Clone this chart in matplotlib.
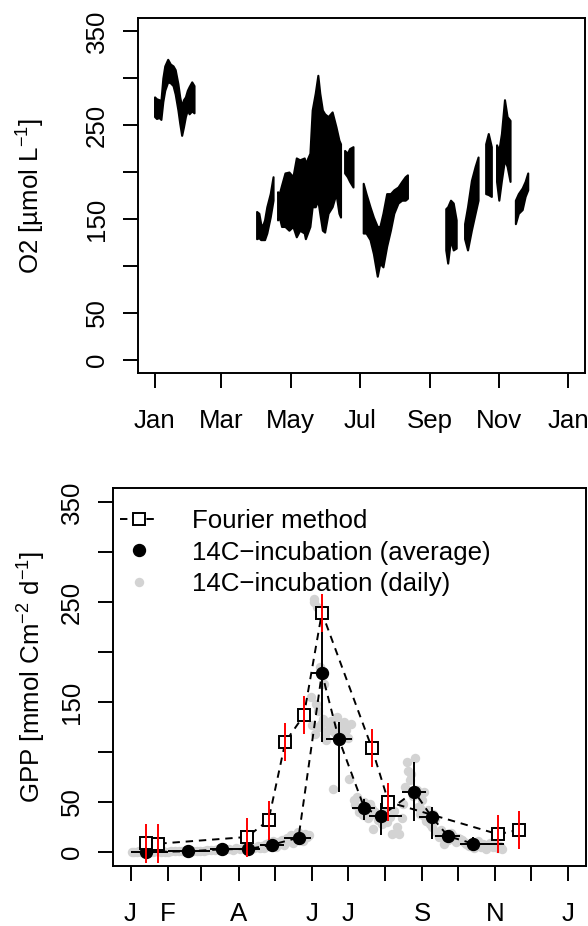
import matplotlib
matplotlib.use("Agg")
import matplotlib.pyplot as plt
import numpy as np

plt.rcParams['font.family'] = ['Liberation Sans', 'DejaVu Sans']
plt.rcParams['mathtext.fontset'] = 'custom'
plt.rcParams['mathtext.rm'] = 'Liberation Sans'
plt.rcParams['mathtext.it'] = 'Liberation Sans:italic'
plt.rcParams['mathtext.bf'] = 'Liberation Sans:bold'

FS = 18.6

# ---------------- O2 record: envelope (upper / lower) per deployment, day of year
o2_day_1 = [0, 1.7, 4, 5.6, 7.3, 9, 11.6, 13.9, 16.3, 18.2, 20.6, 22.2, 23.9, 25.5, 27.2, 28.9, 30.5, 32.8, 34.8]
o2_hi_1 = [280, 278, 277, 276, 300, 313, 320, 315, 313, 309, 294, 280, 270, 277, 280, 287, 291, 296, 292]
o2_lo_1 = [259, 257, 258, 256, 275, 287, 296, 295, 292, 283, 266, 252, 239, 248, 259, 266, 262, 265, 263]

o2_day_2 = [90, 92, 93.6, 95, 97, 99, 102, 104.5]
o2_hi_2 = [158, 156, 145, 142, 149, 163, 177, 195]
o2_lo_2 = [129, 130, 128, 128, 128, 135, 152, 170]

o2_day_3 = [108.5, 110, 112, 115, 118.5, 122, 125, 128, 132, 133, 137, 139, 141.7, 144, 145.7,
            148, 150, 153, 156.6, 160, 162.6, 164]
o2_hi_3 = [179, 177, 186, 199, 200, 195, 215, 213, 215, 209, 220, 266, 284, 303, 284,
           266, 262, 259, 264, 248, 234, 230]
o2_lo_3 = [149, 152, 142, 142, 138, 142, 131, 138, 135, 129, 142, 163, 163, 170, 156,
           138, 136, 156, 163, 177, 156, 152]

o2_day_4 = [167.6, 170, 172, 175]
o2_hi_4 = [223, 220, 225, 227]
o2_lo_4 = [199, 195, 190, 184]

o2_day_5 = [184, 186.5, 190, 193, 196.4, 198.7, 201.4, 204.7, 208, 211, 214.7, 218, 221, 223]
o2_hi_5 = [188, 177, 163, 152, 142, 142, 156, 177, 177, 181, 184, 190, 195, 197]
o2_lo_5 = [135, 135, 128, 113, 89, 103, 99, 121, 138, 156, 167, 170, 170, 172]

o2_day_6 = [256.8, 258.5, 261, 263.4, 266]
o2_hi_6 = [161, 163, 170, 167, 149]
o2_lo_6 = [117, 103, 128, 117, 119]

o2_day_7 = [273.4, 276, 279.4, 282.7, 285.3]
o2_hi_7 = [145, 163, 191, 206, 216]
o2_lo_7 = [129, 117, 138, 156, 170]

o2_day_8 = [292, 294.3, 297]
o2_hi_8 = [230, 241, 227]
o2_lo_8 = [177, 176, 174]

o2_day_9 = [301.6, 303.6, 305.9, 308.6, 310.9, 313.5]
o2_hi_9 = [229, 223, 241, 277, 259, 255]
o2_lo_9 = [190, 170, 191, 213, 206, 190]

o2_day_10 = [318.2, 320.8, 324.2, 326.8, 329.1]
o2_hi_10 = [170, 177, 183, 190, 199]
o2_lo_10 = [145, 156, 160, 174, 181]

# ---------------- GPP
fourier_day = [13, 23, 97, 115, 129, 144.5, 159.5, 201, 215, 306.5, 323.8]
fourier_gpp = [9, 8.3, 15, 31.7, 110, 136.7, 239.5, 104.5, 50, 17.7, 22.3]
fourier_err = [19.5, 19.5, 19.5, 19.5, 19, 19, 19, 19, 19, 19, 19]

avg_day = [13, 48, 76.5, 98, 118, 140, 159.5, 173.5, 194.8, 208.6, 236.5, 251, 264.7, 285.6]
avg_gpp = [0, 0.7, 2.7, 3, 7.3, 14.3, 179, 113.3, 44.2, 35.8, 60.5, 35, 15.8, 8.3]
avg_lo = [0, 0, 1.5, 1.5, 4, 6.7, 110, 60, 32, 17, 31, 13.3, 8.7, 1.7]
avg_hi = [0.5, 1.5, 4, 5, 10.5, 20, 246, 130, 53.3, 49, 90, 45, 21.7, 14.7]
avg_start = [0, 31, 66, 90, 107.5, 128, 150, 163, 185, 199, 226, 240.5, 254, 275]
avg_end = [31, 66, 90, 107.5, 128, 150, 164, 185, 204, 226.6, 246, 257, 275, 311]

daily_day_1 = [1, 3, 5, 7, 9, 11, 13, 15, 17, 19, 21, 23, 25, 27, 29, 31, 34, 37, 40, 43, 46,
               49, 52, 55, 58, 61, 64, 67, 70, 73, 76, 79, 82, 85, 88, 91, 94, 97, 100, 103, 106]
daily_gpp_1 = [0.2, 0.5, 0.3, 0.8, 0.4, 0.6, 0.1, 0.9, 0.5, 0.3, 0.7, 1.0, 0.4, 0.6, 0.2, 0.5,
               0.9, 0.6, 1.1, 0.7, 0.4, 1.2, 0.8, 1.0, 1.5, 1.3, 2.0, 2.4, 1.8, 2.9, 3.3, 2.6,
               3.0, 2.2, 3.8, 2.9, 4.3, 3.4, 4.9, 3.9, 5.6]
daily_day_2 = [108, 109.5, 111, 112.5, 114, 115.5, 117, 118.5, 120, 121.5, 123, 124.5, 126, 127.5]
daily_gpp_2 = [4.2, 6.5, 3.8, 8.0, 5.6, 9.4, 6.1, 11.0, 7.3, 5.0, 10.2, 8.1, 12.4, 6.8]
daily_day_3 = [129, 130.5, 132, 133.5, 135, 136.5, 138, 139.5, 141, 142.5, 144, 145.5, 147, 148.5]
daily_gpp_3 = [9.5, 14.0, 11.2, 17.5, 8.8, 15.6, 12.4, 19.8, 13.1, 16.9, 10.7, 18.4, 14.8, 17.2]
daily_day_4 = [150.5, 151.5, 152.5, 153, 153.5, 154.5, 155, 156, 157, 157.5, 158.5, 159, 160, 161, 162, 163]
daily_gpp_4 = [155, 127, 250, 253, 118, 148, 245, 141, 125, 185, 128, 178, 133, 168, 115, 112]
daily_day_5 = [164, 165.5, 167, 168.5, 169, 170.5, 172, 173.5, 175, 176.5, 178, 179.5, 181, 182.5, 184]
daily_gpp_5 = [121, 128, 131, 63, 126, 119, 135, 124, 125, 118, 130, 122, 114, 73, 128]
daily_day_6 = [186, 187.5, 189, 190.5, 192, 193.5, 195, 196.5, 198, 199.5, 201, 202.5]
daily_gpp_6 = [52, 47, 55, 40, 45, 37, 50, 42, 34, 48, 43, 38]
daily_day_7 = [200, 202, 204, 206, 208, 210, 212, 214, 216, 218, 220, 222, 224, 226]
daily_gpp_7 = [45, 23, 40, 32, 38, 28, 44, 30, 35, 18, 41, 25, 18, 34]
daily_day_8 = [227, 229, 230.5, 231.5, 233, 234, 235.5, 237, 238.5, 240, 241.5, 243, 244.5]
daily_gpp_8 = [48, 65, 90, 81, 72, 78, 56, 94, 62, 45, 38, 52, 60]
daily_day_9 = [241, 243, 245, 246.5, 248, 249.5, 251, 252.5, 254, 255.5, 257]
daily_gpp_9 = [44, 40, 36, 31, 42, 28, 25, 38, 33, 20, 15]
daily_day_10 = [255, 257, 259, 261, 263, 265, 267, 269, 271, 273, 275]
daily_gpp_10 = [20, 18, 22, 8, 15, 12, 19, 16, 10, 14, 13]
daily_day_11 = [276, 278, 280, 282, 284, 286, 288, 290, 292, 294, 296, 298, 300, 302, 304, 306, 308, 310]
daily_gpp_11 = [12, 10, 8, 6, 9, 4, 7, 11, 5, 8, 3, 6, 9, 5, 7, 4, 6, 3]

# ---------------- axis ticks
o2_tick_days = [0, 59, 120, 181, 243, 304, 365]
o2_tick_labels = ["Jan", "Mar", "May", "Jul", "Sep", "Nov", "Jan"]
gpp_tick_days = [0, 31, 59, 90, 120, 151, 181, 212, 243, 273, 304, 334, 365]
gpp_tick_labels = ["J", "F", "", "A", "", "J", "J", "", "S", "", "N", "", "J"]
y_ticks = [0, 50, 100, 150, 200, 250, 300, 350]
y_tick_labels = ["0", "50", "", "150", "", "250", "", "350"]

XLIM = (-14.6, 379.6)
YLIM = (-14, 364)
LW = 1.4

fig = plt.figure(figsize=(5.88, 9.26), dpi=100)
ax1 = fig.add_axes([138 / 588, (926 - 373) / 926, 447 / 588, 355 / 926])
ax2 = fig.add_axes([113 / 588, (926 - 866) / 926, 473 / 588, 378 / 926])


def style_axes(ax, xt, xl):
    ax.set_xlim(*XLIM)
    ax.set_ylim(*YLIM)
    for s in ax.spines.values():
        s.set_linewidth(LW)
    ax.set_xticks(xt)
    ax.set_xticklabels(xl, fontsize=FS)
    ax.set_yticks(y_ticks)
    ax.set_yticklabels(y_tick_labels, fontsize=FS, rotation=90, va='center')
    ax.tick_params(axis='both', length=11, width=LW)
    ax.tick_params(axis='x', pad=15)
    ax.tick_params(axis='y', pad=10)


# O2 panel
segments = [
    (o2_day_1, o2_hi_1, o2_lo_1), (o2_day_2, o2_hi_2, o2_lo_2), (o2_day_3, o2_hi_3, o2_lo_3),
    (o2_day_4, o2_hi_4, o2_lo_4), (o2_day_5, o2_hi_5, o2_lo_5), (o2_day_6, o2_hi_6, o2_lo_6),
    (o2_day_7, o2_hi_7, o2_lo_7), (o2_day_8, o2_hi_8, o2_lo_8), (o2_day_9, o2_hi_9, o2_lo_9),
    (o2_day_10, o2_hi_10, o2_lo_10),
]
for d, hi, lo in segments:
    ax1.fill_between(d, lo, hi, color='black', lw=1.5, edgecolor='black')

style_axes(ax1, o2_tick_days, o2_tick_labels)
ax1.set_ylabel(r"O2 [µmol L$^{-1}$]", fontsize=FS)
ax1.yaxis.set_label_coords(-0.2036, 0.5)

# GPP panel
daily_day = np.concatenate([daily_day_1, daily_day_2, daily_day_3, daily_day_4, daily_day_5,
                            daily_day_6, daily_day_7, daily_day_8, daily_day_9, daily_day_10,
                            daily_day_11])
daily_gpp = np.concatenate([daily_gpp_1, daily_gpp_2, daily_gpp_3, daily_gpp_4, daily_gpp_5,
                            daily_gpp_6, daily_gpp_7, daily_gpp_8, daily_gpp_9, daily_gpp_10,
                            daily_gpp_11])

h_daily, = ax2.plot(daily_day, daily_gpp, ls='none', marker='o', ms=6.8, color='#d3d3d3',
                    mec='none', zorder=1, label="14C\u2212incubation (daily)")

avg_day_a = np.array(avg_day)
avg_gpp_a = np.array(avg_gpp)
ax2.plot(avg_day_a, avg_gpp_a, ls=(0, (3.8, 3)), color='black', lw=LW, zorder=2)
ax2.errorbar(avg_day_a, avg_gpp_a,
             xerr=[avg_day_a - np.array(avg_start), np.array(avg_end) - avg_day_a],
             yerr=[avg_gpp_a - np.array(avg_lo), np.array(avg_hi) - avg_gpp_a],
             fmt='none', ecolor='black', elinewidth=LW, capsize=0, zorder=3)
h_avg, = ax2.plot(avg_day_a, avg_gpp_a, ls='none', marker='o', ms=8.6, color='black',
                  zorder=4, label="14C\u2212incubation (average)")

h_four, = ax2.plot(fourier_day, fourier_gpp, ls=(0, (3.8, 3)), color='black', lw=LW,
                   marker='s', ms=8.8, mfc='white', mec='black', mew=LW, zorder=5,
                   label="Fourier method")
ax2.errorbar(fourier_day, fourier_gpp, yerr=fourier_err, fmt='none', ecolor='red',
             elinewidth=LW, capsize=0, zorder=6)

style_axes(ax2, gpp_tick_days, gpp_tick_labels)
ax2.set_ylabel(r"GPP [mmol Cm$^{-2}$ d$^{-1}$]", fontsize=FS)
ax2.yaxis.set_label_coords(-0.137, 0.5)

ax2.legend(handles=[h_four, h_avg, h_daily], loc='upper left', bbox_to_anchor=(0.0148, 0.945),
           frameon=False, fontsize=FS, borderpad=0, borderaxespad=0, handlelength=1.5,
           handletextpad=1.3, labelspacing=0.3, numpoints=1)

fig.savefig("out.png", dpi=100)
